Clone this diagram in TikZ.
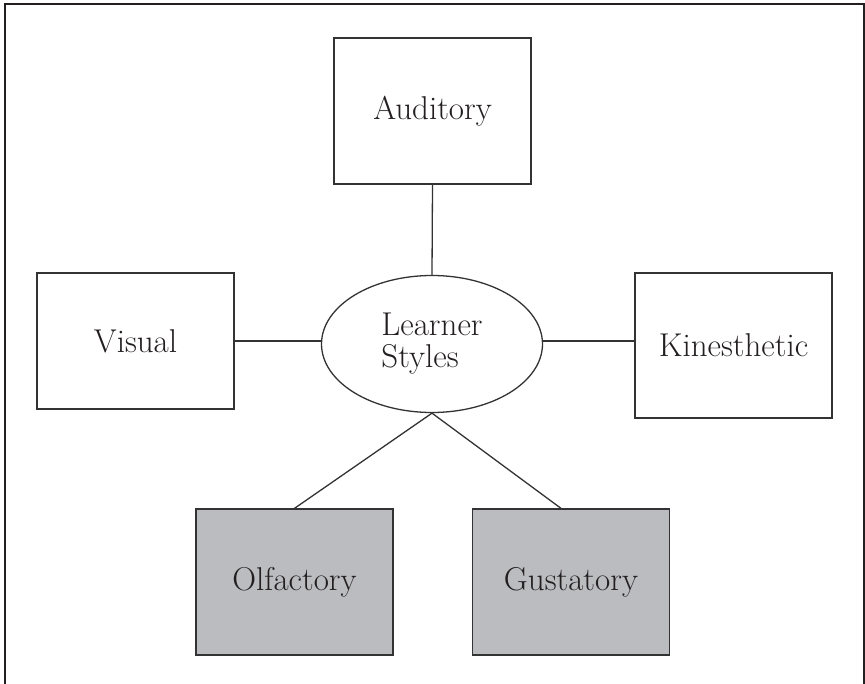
\documentclass[tikz,border=0pt]{standalone}
\usepackage{xcolor}
\usepackage{tikz}
\usetikzlibrary{positioning, arrows.meta, shapes.geometric}
\definecolor{lInk}{HTML}{231F20}
\definecolor{lLine}{HTML}{333333}
\definecolor{lGray}{HTML}{BBBCC0}
\tikzset{
  sense/.style={draw=lLine, line width=1.3pt, fill=white, text=lInk, font=\fontsize{33}{32}\selectfont,
    minimum width=197pt, minimum height=146pt, inner sep=0pt},
  chem/.style={sense, fill=lGray},
  hub/.style={draw=lLine, line width=1.3pt, ellipse, text=lInk, font=\fontsize{33}{32}\selectfont, align=left,
    minimum width=221pt, minimum height=137pt, inner sep=0pt},
  link/.style={line width=1.3pt, lLine}
}

\begin{document}
\begin{tikzpicture}[>=Stealth, x=1pt, y=-1pt]
  \useasboundingbox (0,0) rectangle (865,684);
  \draw[line width=1.5pt, lInk] (5,684) -- (5,4) -- (864,4) -- (864,684);
  \node[hub] (e) at (432,344) {Learner\\Styles};
  \node[sense] (a) at (432.5,111) {Auditory};
  \node[sense, minimum height=136pt] (v) at (135.5,341) {Visual};
  \node[sense, minimum height=145pt] (k) at (733.5,345.5) {Kinesthetic};
  \node[chem] (o) at (294.5,582) {Olfactory};
  \node[chem] (g) at (571,582) {Gustatory};
  \draw[link] (a.south) -- (e.north);
  \draw[link] (v.east) -- (e.west |- v.east);
  \draw[link] (e.east |- v.east) -- (k.west |- v.east);
  \draw[link] (e.south) -- (o.north);
  \draw[link] (e.south) -- ([xshift=-10pt]g.north);
\end{tikzpicture}
\end{document}
